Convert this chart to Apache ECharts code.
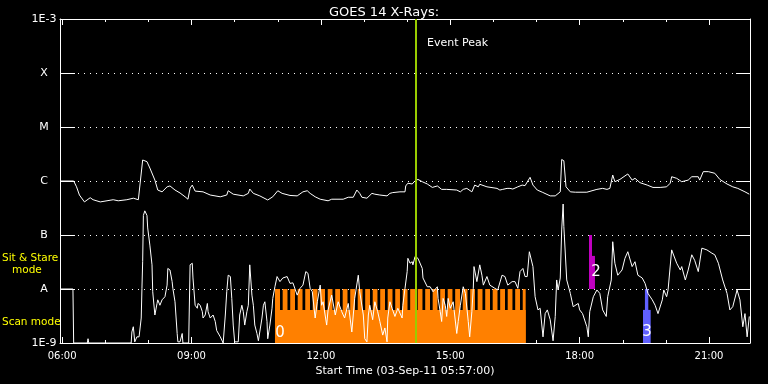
<!DOCTYPE html>
<html><head><meta charset="utf-8">
<script src="https://cdn.jsdelivr.net/npm/echarts@6/dist/echarts.min.js"></script>
<style>html,body{margin:0;padding:0;background:#000}#c{width:768px;height:384px}</style>
</head><body><div id="c"></div>
<script>
// ---------------- data ----------------
const titleText = 'GOES 14 X-Rays:';
const xAxisTitle = 'Start Time (03-Sep-11 05:57:00)';
const timeStart = '05:57';
const timeEnd = '21:57';
const xMajorTicks = ['06:00','09:00','12:00','15:00','18:00','21:00'];
const xMinorTicks = ['06:00','07:00','08:00','09:00','10:00','11:00','12:00','13:00','14:00','15:00','16:00','17:00','18:00','19:00','20:00','21:00'];
const yTickLabels = ['1E-9','A','B','C','M','X','1E-3'];
const yMin = 1e-9, yMax = 1e-3;
const eventPeakTime = '14:12:20';
const eventPeakLabel = 'Event Peak';

// GOES long channel (1-8 A) [time, flux W/m2]
const longChannel = [
['05:58',1.0e-6],['06:16',1.0e-6],['06:20',7.8e-7],['06:24',5.5e-7],['06:31',4.1e-7],['06:39',4.9e-7],['06:43',4.5e-7],['06:53',4.1e-7],
['07:11',4.5e-7],['07:18',4.3e-7],['07:30',4.5e-7],['07:39',4.8e-7],['07:46',4.5e-7],['07:48',4.5e-7],['07:52',2.45e-6],['07:58',2.28e-6],
['08:02',1.74e-6],['08:09',1.04e-6],['08:13',6.8e-7],['08:19',6.3e-7],['08:26',7.8e-7],['08:30',8.1e-7],['08:37',6.8e-7],['08:44',6.0e-7],
['08:51',5.1e-7],['08:55',4.6e-7],['08:58',7.4e-7],['09:01',8.4e-7],['09:05',6.5e-7],['09:16',6.3e-7],['09:26',5.5e-7],['09:40',5.1e-7],
['09:49',5.5e-7],['09:51',6.6e-7],['09:58',5.7e-7],['10:12',5.3e-7],['10:19',5.9e-7],['10:21',7.1e-7],['10:26',5.9e-7],['10:35',5.3e-7],
['10:46',4.45e-7],['10:53',5.1e-7],['11:00',6.6e-7],['11:06',5.9e-7],['11:17',5.4e-7],['11:27',5.3e-7],['11:35',6.3e-7],['11:41',6.6e-7],
['11:45',5.9e-7],['11:52',5.1e-7],['11:59',4.6e-7],['12:10',4.3e-7],['12:15',4.6e-7],['12:31',4.6e-7],['12:38',5.0e-7],['12:45',5.0e-7],
['12:50',6.8e-7],['12:54',5.9e-7],['12:57',5.0e-7],['13:04',4.8e-7],['13:11',5.9e-7],['13:15',5.7e-7],['13:22',5.5e-7],['13:32',5.3e-7],
['13:36',5.9e-7],['13:40',6.1e-7],['13:50',6.3e-7],['13:57',6.3e-7],['13:58',8.1e-7],['14:01',9.1e-7],['14:07',8.8e-7],['14:11',1.01e-6],
['14:15',1.07e-6],['14:21',9.7e-7],['14:28',8.8e-7],['14:35',7.6e-7],['14:42',8.1e-7],['14:48',7.0e-7],['14:55',7.0e-7],['15:09',6.8e-7],
['15:14',6.3e-7],['15:18',7.0e-7],['15:23',7.3e-7],['15:30',6.3e-7],['15:34',8.4e-7],['15:39',7.8e-7],['15:41',8.7e-7],['15:51',7.8e-7],
['16:05',7.3e-7],['16:09',6.8e-7],['16:13',7.0e-7],['16:19',7.3e-7],['16:23',7.3e-7],['16:27',7.1e-7],['16:34',7.8e-7],['16:40',8.4e-7],
['16:44',8.2e-7],['16:51',1.17e-6],['16:55',8.4e-7],['17:01',6.8e-7],['17:08',6.2e-7],['17:19',5.3e-7],['17:26',5.3e-7],['17:33',6.3e-7],
['17:35',2.5e-6],['17:38',2.37e-6],['17:41',7.8e-7],['17:47',6.3e-7],['17:54',6.2e-7],['18:10',6.2e-7],['18:24',7.0e-7],['18:32',7.3e-7],
['18:38',7.0e-7],['18:42',7.3e-7],['18:46',1.29e-6],['18:49',9.7e-7],['18:56',1.07e-6],['19:07',1.35e-6],['19:13',1.04e-6],['19:17',1.12e-6],
['19:24',9.3e-7],['19:34',8.4e-7],['19:42',7.6e-7],['19:52',7.6e-7],['20:01',7.8e-7],['20:06',9.1e-7],['20:08',1.2e-6],['20:15',1.12e-6],
['20:22',9.7e-7],['20:31',1.04e-6],['20:36',1.2e-6],['20:45',1.2e-6],['20:47',1.04e-6],['20:52',1.49e-6],['20:59',1.49e-6],['21:08',1.39e-6],
['21:15',1.07e-6],['21:25',8.8e-7],['21:33',7.8e-7],['21:40',7.3e-7],['21:50',6.3e-7],['21:56',5.7e-7]
];

// GOES short channel (0.5-4 A) [time, flux W/m2]
const shortChannel = [
['05:58',1.0e-8],['06:15',1.0e-8],['06:16',1.0e-9],['06:35',1.0e-9],['06:36',1.2e-9],['06:37',1.0e-9],['07:36',1.0e-9],['07:37',1.6e-9],
['07:39',2.0e-9],['07:41',1.05e-9],['07:44',1.3e-9],['07:47',1.3e-9],['07:50',2.9e-9],['07:51',1.03e-8],['07:52',3.2e-8],['07:53',2.3e-7],
['07:55',2.8e-7],['07:58',2.3e-7],['07:59',1.35e-7],['08:02',6.5e-8],['08:05',2.8e-8],['08:06',8.9e-9],['08:09',3.3e-9],['08:12',5.4e-9],
['08:13',6.3e-9],['08:16',5.0e-9],['08:19',6.3e-9],['08:20',5.8e-9],['08:23',7.2e-9],['08:26',1.18e-8],['08:27',2.4e-8],['08:30',2.25e-8],
['08:33',1.37e-8],['08:34',1.03e-8],['08:37',5.8e-9],['08:40',1.5e-9],['08:41',1.05e-9],['08:44',1.05e-9],['08:47',1.5e-9],['08:48',1.0e-9],
['08:56',1.0e-9],['08:58',2.8e-8],['09:01',3.0e-8],['09:02',1.6e-8],['09:05',5.0e-9],['09:08',4.4e-9],['09:09',5.4e-9],['09:12',5.0e-9],
['09:15',3.8e-9],['09:16',2.9e-9],['09:19',3.3e-9],['09:22',5.4e-9],['09:23',3.8e-9],['09:26',2.9e-9],['09:28',2.7e-9],['09:30',3.3e-9],
['09:33',2.5e-9],['09:35',1.7e-9],['09:40',1.3e-9],['09:44',1.0e-9],['09:47',3.3e-9],['09:49',8.9e-9],['09:51',1.8e-8],['09:54',1.7e-8],
['09:56',6.7e-9],['09:58',2.15e-9],['10:00',1.05e-9],['10:05',1.05e-9],['10:07',3.3e-9],['10:10',5.0e-9],['10:12',3.8e-9],['10:14',2.15e-9],
['10:17',3.8e-9],['10:19',5.0e-9],['10:21',2.8e-8],['10:24',7.7e-9],['10:26',5.0e-9],['10:28',2.15e-9],['10:31',1.5e-9],['10:33',1.1e-9],
['10:35',1.05e-9],['10:38',2.9e-9],['10:40',5.0e-9],['10:42',5.8e-9],['10:45',2.5e-9],['10:46',1.2e-9],['10:49',2.15e-9],['10:52',4.4e-9],
['10:53',6.7e-9],['10:56',1.1e-8],['10:59',1.7e-8],['11:03',1.37e-8],['11:07',1.6e-8],['11:13',1.7e-8],['11:17',1.27e-8],['11:21',1.3e-8],
['11:27',7.7e-9],['11:31',1.03e-8],['11:35',1.18e-8],['11:39',2.1e-8],['11:42',1.95e-8],['11:45',1.03e-8],['11:48',8.9e-9],['11:52',2.9e-9],
['11:55',5.8e-9],['11:59',1.18e-8],['12:01',5.0e-9],['12:03',5.8e-9],['12:08',2.15e-9],['12:10',4.1e-9],['12:15',7.7e-9],['12:20',3.3e-9],
['12:24',5.8e-9],['12:29',3.8e-9],['12:33',2.9e-9],['12:38',5.4e-9],['12:43',1.6e-9],['12:47',6.7e-9],['12:52',1.8e-8],['12:54',8.9e-9],
['12:59',3.3e-9],['13:01',1.2e-9],['13:04',1.05e-9],['13:06',3.3e-9],['13:08',5.0e-9],['13:12',2.7e-9],['13:15',5.8e-9],['13:19',3.8e-9],
['13:22',2.5e-9],['13:26',1.4e-9],['13:29',1.9e-9],['13:32',1.05e-9],['13:33',2.9e-9],['13:36',5.8e-9],['13:39',4.4e-9],['13:43',3.1e-9],
['13:47',4.4e-9],['13:53',2.9e-9],['13:54',5.0e-9],['13:57',1.03e-8],['14:00',2.1e-8],['14:01',3.7e-8],['14:04',3.0e-8],['14:07',3.2e-8],
['14:08',2.8e-8],['14:11',4.0e-8],['14:15',3.7e-8],['14:21',2.4e-8],['14:22',1.6e-8],['14:28',1.1e-8],['14:32',1.1e-8],['14:36',8.9e-9],
['14:42',1.1e-8],['14:43',6.7e-9],['14:46',3.8e-9],['14:48',2.5e-9],['14:50',6.7e-9],['14:53',5.0e-9],['14:55',3.1e-9],['14:57',6.7e-9],
['15:00',4.4e-9],['15:04',5.8e-9],['15:09',1.5e-9],['15:11',2.5e-9],['15:14',5.0e-9],['15:18',1.1e-8],['15:21',8.3e-9],['15:25',2.5e-9],
['15:27',1.3e-9],['15:30',3.8e-9],['15:32',1.03e-8],['15:33',2.6e-8],['15:37',1.37e-8],['15:41',2.8e-8],['15:44',1.8e-8],['15:46',1.18e-8],
['15:51',1.7e-8],['15:55',1.18e-8],['16:02',1.03e-8],['16:06',9.6e-9],['16:12',1.8e-8],['16:16',1.7e-8],['16:20',1.18e-8],['16:26',1.37e-8],
['16:30',1.37e-8],['16:34',1.03e-8],['16:37',2.1e-8],['16:41',2.4e-8],['16:44',1.7e-8],['16:47',1.7e-8],['16:50',4.9e-8],['16:55',2.6e-8],
['16:58',7.2e-9],['17:02',4.1e-9],['17:05',4.4e-9],['17:09',1.3e-9],['17:12',3.5e-9],['17:15',4.1e-9],['17:19',2.7e-9],['17:23',1.1e-9],
['17:26',3.1e-9],['17:28',1.47e-8],['17:30',9.6e-9],['17:33',1.6e-8],['17:35',1.24e-7],['17:37',3.75e-7],['17:38',1.43e-7],['17:42',1.47e-8],
['17:47',8.3e-9],['17:51',4.7e-9],['17:58',5.4e-9],['18:00',4.1e-9],['18:04',3.5e-9],['18:10',2.0e-9],['18:12',1.3e-9],['18:14',3.8e-9],
['18:19',7.2e-9],['18:24',9.6e-9],['18:28',8.3e-9],['18:32',4.1e-9],['18:37',3.1e-9],['18:39',7.2e-9],['18:44',1.47e-8],['18:46',7.5e-8],
['18:49',3.0e-8],['18:53',1.8e-8],['18:59',2.25e-8],['19:03',3.7e-8],['19:07',4.9e-8],['19:13',2.6e-8],['19:17',3.2e-8],['19:21',1.8e-8],
['19:27',1.6e-8],['19:31',1.27e-8],['19:35',8.3e-9],['19:41',6.3e-9],['19:45',5.0e-9],['19:49',3.5e-9],['19:55',6.3e-9],['19:57',9.6e-9],
['20:01',7.2e-9],['20:03',9.6e-9],['20:08',5.3e-8],['20:10',5.7e-8],['20:15',3.0e-8],['20:20',2.25e-8],['20:22',2.6e-8],['20:27',1.47e-8],
['20:31',2.25e-8],['20:36',4.3e-8],['20:40',3.4e-8],['20:45',2.1e-8],['20:50',5.7e-8],['20:57',5.3e-8],['21:04',4.6e-8],['21:08',4.3e-8],
['21:13',3.0e-8],['21:19',1.47e-8],['21:25',8.3e-9],['21:29',4.1e-9],['21:33',4.7e-9],['21:39',9.6e-9],['21:43',6.3e-9],['21:47',2.0e-9],
['21:50',3.5e-9],['21:53',1.3e-9],['21:56',3.1e-9]
];

// Observation blocks [start, end, bottom flux, top flux]
const scanModeBlocks0 = [
['10:56:06','16:44:54',1e-9,4.1e-9],
['10:56:06','11:03:06',1e-9,1e-8],['11:06:48','11:13:30',1e-9,1e-8],['11:17:18','11:24:00',1e-9,1e-8],['11:27:42','11:34:24',1e-9,1e-8],
['11:38:12','11:44:48',1e-9,1e-8],['11:48:36','11:55:18',1e-9,1e-8],['11:59:00','12:05:42',1e-9,1e-8],['12:09:30','12:16:06',1e-9,1e-8],
['12:19:54','12:26:36',1e-9,1e-8],['12:30:18','12:37:00',1e-9,1e-8],['12:40:48','12:47:24',1e-9,1e-8],['12:51:12','12:57:54',1e-9,1e-8],
['13:01:36','13:08:18',1e-9,1e-8],['13:12:06','13:18:42',1e-9,1e-8],['13:22:30','13:29:12',1e-9,1e-8],['13:32:54','13:39:36',1e-9,1e-8],
['13:43:24','13:50:00',1e-9,1e-8],['13:53:48','14:00:30',1e-9,1e-8],['14:04:12','14:10:54',1e-9,1e-8],['14:14:42','14:21:18',1e-9,1e-8],
['14:25:06','14:31:48',1e-9,1e-8],['14:35:30','14:42:12',1e-9,1e-8],['14:46:00','14:52:36',1e-9,1e-8],['14:56:24','15:03:00',1e-9,1e-8],
['15:06:48','15:13:30',1e-9,1e-8],['15:17:18','15:23:54',1e-9,1e-8],['15:27:42','15:34:24',1e-9,1e-8],['15:38:06','15:44:48',1e-9,1e-8],
['15:48:36','15:55:18',1e-9,1e-8],['15:59:00','16:05:42',1e-9,1e-8],['16:09:24','16:16:06',1e-9,1e-8],['16:19:54','16:26:30',1e-9,1e-8],
['16:30:18','16:37:00',1e-9,1e-8],['16:40:48','16:44:54',1e-9,1e-8]
];
const sitStareBlocks2 = [
['18:13:00','18:17:12',1e-8,1e-7],['18:17:12','18:21:18',1e-8,4.1e-8]
];
const scanModeBlocks3 = [
['19:28:06','19:38:48',1e-9,4.1e-9],['19:30:48','19:35:30',1e-9,1e-8]
];
// block number labels [time, flux, text]
const blockLabels = [['11:03:00',1.53e-9,'0'],['18:22:40',2.07e-8,'2'],['19:33:40',1.6e-9,'3']];

// ---------------- helpers ----------------
function tmin(t){ const p=t.split(':').map(Number); return p[0]*60+p[1]+(p[2]||0)/60; }
function fmtTime(v){ const h=Math.floor(Math.round(v)/60), m=Math.round(v)%60; return String(h).padStart(2,'0')+':'+String(m).padStart(2,'0'); }
const FONT = 'DejaVu Sans';
const xMin = tmin(timeStart), xMax = tmin(timeEnd);
const majorVals = xMajorTicks.map(tmin), minorVals = xMinorTicks.map(tmin);

function rectItem(params, api){
  const a = api.coord([api.value(0), api.value(3)]);
  const b = api.coord([api.value(1), api.value(2)]);
  return {type:'rect', shape:{x:a[0], y:a[1], width:b[0]-a[0], height:b[1]-a[1]}, style:{fill: api.visual('color')}};
}
function blockSeries(name, blocks, color){
  return {type:'custom', name, renderItem: rectItem, coordinateSystem:'cartesian2d', z:1,
    itemStyle:{color}, encode:{x:[0,1], y:[2,3]}, silent:true,
    data: blocks.map(b=>[tmin(b[0]), tmin(b[1]), b[2], b[3]])};
}
function xAx(pos, vals, len, showLine, showLabel){
  return {type:'value', position:pos, min:xMin, max:xMax, scale:true,
    axisLine:{show:showLine, onZero:false, lineStyle:{color:'#fff', width:1}},
    splitLine:{show:false},
    axisTick:{show:true, inside:true, length:len, customValues: vals, lineStyle:{color:'#fff'}},
    axisLabel: showLabel ? {show:true, customValues: vals, formatter: fmtTime, color:'#fff', fontSize:10, fontFamily:FONT, margin:8} : {show:false}
  };
}

const chart = echarts.init(document.getElementById('c'), null, {renderer:'canvas'});
const bottomMain = xAx('bottom', majorVals, 6, true, true);
bottomMain.name = xAxisTitle;
bottomMain.nameLocation = 'middle';
bottomMain.nameGap = 20;
bottomMain.nameTextStyle = {color:'#fff', fontSize:11, fontFamily:FONT};

chart.setOption({
  backgroundColor:'#000',
  animation:false,
  title:{text:titleText, left:'center', top:1, textStyle:{color:'#fff', fontSize:13, fontWeight:'normal', fontFamily:FONT}},
  grid:{left:60, top:19, width:690, height:324, containLabel:false},
  xAxis:[ bottomMain, xAx('bottom', minorVals, 3, false, false), xAx('top', majorVals, 6, true, false), xAx('top', minorVals, 3, false, false) ],
  yAxis:[
    {type:'log', logBase:10, min:yMin, max:yMax, position:'left',
      axisLine:{show:true, lineStyle:{color:'#fff'}},
      axisTick:{show:true, inside:true, length:15, lineStyle:{color:'#fff'}},
      axisLabel:{color:'#fff', fontSize:11, fontFamily:FONT, margin:16, align:'center',
        formatter:(v)=> yTickLabels[Math.round(Math.log10(v)) - Math.round(Math.log10(yMin))]},
      splitLine:{show:true, lineStyle:{color:'#fff', type:[1,5], width:1}}},
    {type:'log', logBase:10, min:yMin, max:yMax, position:'right',
      axisLine:{show:true, lineStyle:{color:'#fff'}},
      axisTick:{show:true, inside:true, length:14, lineStyle:{color:'#fff'}},
      axisLabel:{show:false}, splitLine:{show:false}}
  ],
  graphic:[
    {type:'text', left:2, top:253, style:{text:'Sit & Stare', fill:'#ffff00', font:'10.5px "DejaVu Sans"'}},
    {type:'text', left:12, top:265, style:{text:'mode', fill:'#ffff00', font:'10.5px "DejaVu Sans"'}},
    {type:'text', left:2, top:317, style:{text:'Scan mode', fill:'#ffff00', font:'10.5px "DejaVu Sans"'}}
  ],
  series:[
    blockSeries('Scan 0', scanModeBlocks0, '#ff8000'),
    blockSeries('Sit & Stare 2', sitStareBlocks2, '#c000c0'),
    blockSeries('Scan 3', scanModeBlocks3, '#6060ff'),
    {type:'line', name:'Long', data: longChannel.map(d=>[tmin(d[0]), d[1]]), showSymbol:false, symbol:'none', z:3,
      lineStyle:{color:'#fff', width:1}, silent:true},
    {type:'line', name:'Short', data: shortChannel.map(d=>[tmin(d[0]), d[1]]), showSymbol:false, symbol:'none', z:3,
      lineStyle:{color:'#fff', width:1}, silent:true,
      markLine:{symbol:'none', silent:true, label:{show:false}, z:5,
        lineStyle:{color:'#99cc00', width:2, type:'solid'}, data:[{xAxis: tmin(eventPeakTime)}]}},
    {type:'custom', name:'Event label', z:6, silent:true, coordinateSystem:'cartesian2d',
      data:[[tmin(eventPeakTime), 3.6e-4]],
      renderItem:(params, api)=>{
        const p = api.coord([api.value(0), api.value(1)]);
        return {type:'text', x:p[0]+11, y:p[1], style:{text:eventPeakLabel, fill:'#fff', font:'11px "DejaVu Sans"', textAlign:'left', textVerticalAlign:'middle'}};
      }},
    {type:'custom', name:'Block labels', z:6, silent:true, coordinateSystem:'cartesian2d',
      data: blockLabels.map(b=>[tmin(b[0]), b[1]]),
      renderItem:(params, api)=>{
        const p = api.coord([api.value(0), api.value(1)]);
        return {type:'text', x:p[0], y:p[1], style:{text:blockLabels[params.dataIndex][2], fill:'#fff', font:'15px "DejaVu Sans"', textAlign:'center', textVerticalAlign:'middle'}};
      }}
  ]
});
</script></body></html>
